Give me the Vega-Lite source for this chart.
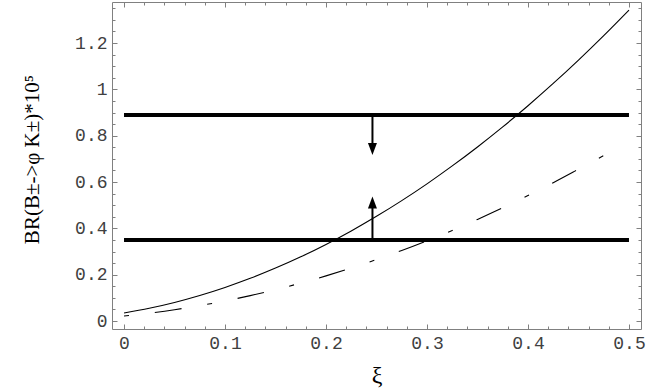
{
  "$schema": "https://vega.github.io/schema/vega-lite/v6.json",
  "width": 529,
  "height": 327,
  "autosize": "none",
  "padding": {"left": 112, "top": 2, "right": 13, "bottom": 62},
  "background": "white",
  "config": {
    "view": {"stroke": "#808080", "strokeWidth": 1},
    "axis": {
      "domain": false,
      "grid": false,
      "tickColor": "#808080",
      "tickWidth": 1,
      "labelFont": "Liberation Mono",
      "labelFontSize": 18,
      "labelColor": "#404040",
      "titleFont": "Liberation Serif",
      "titleFontWeight": "normal",
      "titleColor": "#000000"
    }
  },
  "datasets": {
    "solid": [
      {"xi": 0, "br": 0.0346},
      {"xi": 0.025, "br": 0.055},
      {"xi": 0.05, "br": 0.0802},
      {"xi": 0.075, "br": 0.1101},
      {"xi": 0.1, "br": 0.1448},
      {"xi": 0.125, "br": 0.1841},
      {"xi": 0.15, "br": 0.2283},
      {"xi": 0.175, "br": 0.2771},
      {"xi": 0.2, "br": 0.3306},
      {"xi": 0.225, "br": 0.3889},
      {"xi": 0.25, "br": 0.4519},
      {"xi": 0.275, "br": 0.5197},
      {"xi": 0.3, "br": 0.5921},
      {"xi": 0.325, "br": 0.6694},
      {"xi": 0.35, "br": 0.7513},
      {"xi": 0.375, "br": 0.8379},
      {"xi": 0.4, "br": 0.9293},
      {"xi": 0.425, "br": 1.0254},
      {"xi": 0.45, "br": 1.1263},
      {"xi": 0.475, "br": 1.2319},
      {"xi": 0.5, "br": 1.3421}
    ],
    "dashed": [
      {"xi": 0, "br": 0.0216},
      {"xi": 0.025, "br": 0.0338},
      {"xi": 0.05, "br": 0.0487},
      {"xi": 0.075, "br": 0.0663},
      {"xi": 0.1, "br": 0.0866},
      {"xi": 0.125, "br": 0.1096},
      {"xi": 0.15, "br": 0.1353},
      {"xi": 0.175, "br": 0.1637},
      {"xi": 0.2, "br": 0.1948},
      {"xi": 0.225, "br": 0.2287},
      {"xi": 0.25, "br": 0.2652},
      {"xi": 0.275, "br": 0.3045},
      {"xi": 0.3, "br": 0.3465},
      {"xi": 0.325, "br": 0.3911},
      {"xi": 0.35, "br": 0.4385},
      {"xi": 0.375, "br": 0.4886},
      {"xi": 0.4, "br": 0.5414},
      {"xi": 0.425, "br": 0.5969},
      {"xi": 0.45, "br": 0.6551},
      {"xi": 0.48, "br": 0.7259}
    ],
    "levels": [
      {"level": 0.889, "from": 0, "to": 0.5},
      {"level": 0.35, "from": 0, "to": 0.5}
    ],
    "shafts": [
      {"xi": 0.246, "start": 0.889, "end": 0.745},
      {"xi": 0.246, "start": 0.35, "end": 0.51}
    ],
    "heads": [
      {"xi": 0.246, "br": 0.742, "dir": "down"},
      {"xi": 0.246, "br": 0.512, "dir": "up"}
    ]
  },
  "layer": [
    {
      "data": {"name": "solid"},
      "mark": {"type": "line", "color": "black", "strokeWidth": 1.1, "interpolate": "monotone"},
      "encoding": {
        "x": {
          "field": "xi", "type": "quantitative",
          "scale": {"domain": [-0.0119, 0.5119], "nice": false, "zero": false},
          "axis": {
            "orient": "bottom",
            "values": [0, 0.1, 0.2, 0.3, 0.4, 0.5],
            "tickSize": -5,
            "labelPadding": 10,
            "labelExpr": "format(datum.value, '~g')",
            "title": "ξ",
            "titleFontSize": 24,
            "titleY": 53,
            "titleBaseline": "alphabetic"
          }
        },
        "y": {
          "field": "br", "type": "quantitative",
          "scale": {"domain": [-0.0345, 1.377], "nice": false, "zero": false},
          "axis": {
            "orient": "left",
            "values": [0, 0.2, 0.4, 0.6, 0.8, 1, 1.2],
            "tickSize": -5,
            "labelPadding": 10,
            "labelExpr": "format(datum.value, '~g')",
            "title": "BR(B±->φ K±)*10⁵",
            "titleFontSize": 21,
            "titleAngle": -90,
            "titleX": -74,
            "titleY": 157,
            "titleAlign": "center",
            "titleBaseline": "alphabetic"
          }
        }
      }
    },
    {
      "data": {"name": "dashed"},
      "mark": {"type": "line", "color": "black", "strokeWidth": 1.1, "interpolate": "monotone", "strokeDash": [5, 26, 27, 26]},
      "encoding": {
        "x": {
          "field": "xi", "type": "quantitative",
          "scale": {"domain": [-0.0119, 0.5119], "nice": false, "zero": false},
          "axis": {
            "orient": "bottom",
            "values": [0.02, 0.04, 0.06, 0.08, 0.12, 0.14, 0.16, 0.18, 0.22, 0.24, 0.26, 0.28, 0.32, 0.34, 0.36, 0.38, 0.42, 0.44, 0.46, 0.48],
            "tickSize": -3,
            "labels": false,
            "title": null
          }
        },
        "y": {
          "field": "br", "type": "quantitative",
          "scale": {"domain": [-0.0345, 1.377], "nice": false, "zero": false},
          "axis": {
            "orient": "left",
            "values": [0.05, 0.1, 0.15, 0.25, 0.3, 0.35, 0.45, 0.5, 0.55, 0.65, 0.7, 0.75, 0.85, 0.9, 0.95, 1.05, 1.1, 1.15, 1.25, 1.3, 1.35],
            "tickSize": -3,
            "labels": false,
            "title": null
          }
        }
      }
    },
    {
      "data": {"name": "levels"},
      "mark": {"type": "rule", "color": "black", "strokeWidth": 4},
      "encoding": {
        "x": {
          "field": "from", "type": "quantitative",
          "scale": {"domain": [-0.0119, 0.5119], "nice": false, "zero": false},
          "axis": {
            "orient": "top",
            "values": [0, 0.1, 0.2, 0.3, 0.4, 0.5],
            "tickSize": -5,
            "labels": false,
            "title": null
          }
        },
        "x2": {"field": "to"},
        "y": {
          "field": "level", "type": "quantitative",
          "scale": {"domain": [-0.0345, 1.377], "nice": false, "zero": false},
          "axis": {
            "orient": "right",
            "values": [0, 0.2, 0.4, 0.6, 0.8, 1, 1.2],
            "tickSize": -5,
            "labels": false,
            "title": null
          }
        }
      }
    },
    {
      "data": {"name": "shafts"},
      "mark": {"type": "rule", "color": "black", "strokeWidth": 2},
      "encoding": {
        "x": {
          "field": "xi", "type": "quantitative",
          "scale": {"domain": [-0.0119, 0.5119], "nice": false, "zero": false},
          "axis": {
            "orient": "top",
            "values": [0.02, 0.04, 0.06, 0.08, 0.12, 0.14, 0.16, 0.18, 0.22, 0.24, 0.26, 0.28, 0.32, 0.34, 0.36, 0.38, 0.42, 0.44, 0.46, 0.48],
            "tickSize": -3,
            "labels": false,
            "title": null
          }
        },
        "y": {
          "field": "start", "type": "quantitative",
          "scale": {"domain": [-0.0345, 1.377], "nice": false, "zero": false},
          "axis": {
            "orient": "right",
            "values": [0.05, 0.1, 0.15, 0.25, 0.3, 0.35, 0.45, 0.5, 0.55, 0.65, 0.7, 0.75, 0.85, 0.9, 0.95, 1.05, 1.1, 1.15, 1.25, 1.3, 1.35],
            "tickSize": -3,
            "labels": false,
            "title": null
          }
        },
        "y2": {"field": "end"}
      }
    },
    {
      "data": {"name": "heads"},
      "mark": {"type": "point", "filled": true, "color": "black", "opacity": 1, "size": 144, "strokeWidth": 0},
      "encoding": {
        "x": {
          "field": "xi", "type": "quantitative",
          "scale": {"domain": [-0.0119, 0.5119], "nice": false, "zero": false},
          "axis": null
        },
        "y": {
          "field": "br", "type": "quantitative",
          "scale": {"domain": [-0.0345, 1.377], "nice": false, "zero": false},
          "axis": null
        },
        "shape": {
          "field": "dir", "type": "nominal",
          "scale": {"domain": ["down", "up"], "range": ["M0,1L-0.75,-1L0.75,-1Z", "M0,-1L-0.75,1L0.75,1Z"]},
          "legend": null
        }
      }
    }
  ],
  "resolve": {"axis": {"x": "independent", "y": "independent"}}
}
